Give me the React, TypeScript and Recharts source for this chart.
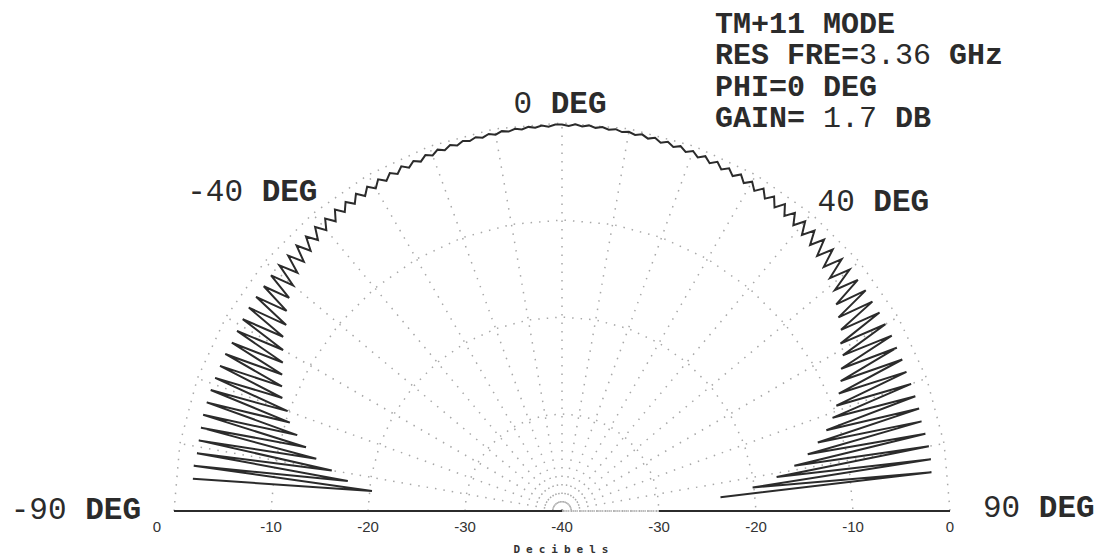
import { RadarChart, Radar, PolarGrid, PolarAngleAxis, PolarRadiusAxis } from 'recharts';

// elevation angle of each sample, degrees (0 = broadside)
const THETA_DEG = [
  -85, -84, -83, -82, -81, -80, -79, -78, -77, -76,
  -75, -74, -73, -72, -71, -70, -69, -68, -67, -66,
  -65, -64, -63, -62, -61, -60, -59, -58, -57, -56,
  -55, -54, -53, -52, -51, -50, -49, -48, -47, -46,
  -45, -44, -43, -42, -41, -40, -39, -38, -37, -36,
  -35, -34, -33, -32, -31, -30, -29, -28, -27, -26,
  -25, -24, -23, -22, -21, -20, -19, -18, -17, -16,
  -15, -14, -13, -12, -11, -10, -9, -8, -7, -6,
  -5, -4, -3, -2, -1, 0, 1, 2, 3, 4,
  5, 6, 7, 8, 9, 10, 11, 12, 13, 14,
  15, 16, 17, 18, 19, 20, 21, 22, 23, 24,
  25, 26, 27, 28, 29, 30, 31, 32, 33, 34,
  35, 36, 37, 38, 39, 40, 41, 42, 43, 44,
  45, 46, 47, 48, 49, 50, 51, 52, 53, 54,
  55, 56, 57, 58, 59, 60, 61, 62, 63, 64,
  65, 66, 67, 68, 69, 70, 71, 72, 73, 74,
  75, 76, 77, 78, 79, 80, 81, 82, 83, 84, 85,
];

// normalised pattern, dB
const GAIN_DB = [
  -1.8, -20.3, -1.75, -17.7, -1.9, -15.9, -1.85, -14.1, -1.8, -12.8,
  -1.7, -11.6, -1.7, -10.5, -1.7, -9.9, -1.7, -8.9, -1.7, -8.4,
  -1.7, -7.9, -1.8, -7.4, -1.7, -6.8, -1.6, -6.1, -1.5, -5.7,
  -1.5, -4.9, -1.5, -4.3, -1.4, -3.8, -1.4, -3.3, -1.4, -3.0,
  -1.3, -2.7, -1.3, -2.4, -1.2, -2.2, -1.2, -2.1, -1.1, -1.9,
  -1.1, -1.8, -1.0, -1.7, -1.0, -1.6, -0.9, -1.45, -0.9, -1.35,
  -0.8, -1.25, -0.8, -1.15, -0.7, -1.0, -0.6, -0.9, -0.55, -0.8,
  -0.5, -0.7, -0.45, -0.65, -0.4, -0.6, -0.35, -0.5, -0.3, -0.45,
  -0.25, -0.4, -0.2, -0.35, -0.15, -0.15, -0.3, -0.1, -0.3, -0.15,
  -0.35, -0.2, -0.4, -0.25, -0.45, -0.3, -0.5, -0.3, -0.6, -0.35,
  -0.7, -0.4, -0.75, -0.45, -0.85, -0.5, -0.95, -0.55, -1.05, -0.6,
  -1.15, -0.7, -1.25, -0.7, -1.35, -0.8, -1.5, -0.8, -1.6, -0.9,
  -1.8, -0.9, -1.9, -1.0, -2.1, -1.0, -2.3, -1.1, -2.5, -1.1,
  -2.8, -1.2, -3.1, -1.2, -3.4, -1.3, -3.8, -1.3, -4.6, -1.3,
  -5.2, -1.4, -5.7, -1.4, -6.5, -1.5, -6.9, -1.5, -7.7, -1.6,
  -8.3, -1.6, -9.0, -1.7, -9.7, -1.7, -10.5, -1.7, -11.5, -1.7,
  -12.7, -1.8, -14.0, -1.7, -15.6, -1.6, -17.6, -1.6, -20.2, -1.7, -23.6,
];

const GRID_ANGLES = [-90, -80, -70, -60, -50, -40, -30, -20, -10, 0, 10, 20, 30, 40, 50, 60, 70, 80, 90];
const LABEL_ANGLES = [-90, -40, 0, 40, 90];
const DB_TICKS_LEFT = [0, -10, -20, -30, -40];
const DB_TICKS_RIGHT = [0, -10, -20, -30];
const CENTER_RINGS = [-39.4, -38.7];

const NOTES = [
  [{ t: 'TM+11 MODE', b: true }],
  [{ t: 'RES FRE=', b: true }, { t: '3.36', b: false }, { t: ' GHz', b: true }],
  [{ t: 'PHI=0 DEG', b: true }],
  [{ t: 'GAIN= ', b: true }, { t: '1.7', b: false }, { t: ' DB', b: true }],
];

const MONO = "'Liberation Mono', 'Courier New', monospace";
const INK = '#2b2b2b';
const W = 1099;
const H = 560;
const CX = 562;
const CY = 511;
const R = 388;

const data = THETA_DEG.map((theta, i) => ({ theta, gain: GAIN_DB[i] }));

const DEG_OFFSET: Record<string, [number, number, 'start' | 'middle' | 'end']> = {
  '-90': [-25, 8, 'end'],
  '-40': [10, -7, 'end'],
  '0': [-2, -2, 'middle'],
  '40': [1, 3, 'start'],
  '90': [25, 6, 'start'],
};

function DegTick(props: any) {
  const { x, y, payload } = props;
  const [dx, dy, anchor] = DEG_OFFSET[String(payload.value)] ?? [0, 0, 'middle'];
  return (
    <text x={x + dx} y={y + dy} textAnchor={anchor} fontFamily={MONO} fontSize={31} fill={INK}>
      <tspan>{`${payload.value}\u00a0`}</tspan>
      <tspan fontWeight="bold">DEG</tspan>
    </text>
  );
}

function DbTick(side: 'left' | 'right') {
  return (props: any) => {
    const { x, y, payload } = props;
    const dx = side === 'left' && payload.value === 0 ? -17 : 0;
    return (
      <text
        x={x + dx}
        y={y + 21}
        textAnchor="middle"
        fontFamily="'Liberation Sans', Arial, sans-serif"
        fontSize={15}
        fill="#333"
      >
        {payload.value}
      </text>
    );
  };
}

// open trace: the pattern is not closed back across the ground plane
function OpenTrace(props: any) {
  const pts = (props.points || []).filter((p: any) => Number.isFinite(p.x) && Number.isFinite(p.y));
  const d = pts.map((p: any, i: number) => `${i === 0 ? 'M' : 'L'}${p.x},${p.y}`).join('');
  return <path d={d} fill="none" stroke={INK} strokeWidth={2} strokeLinejoin="miter" />;
}

const layer = { position: 'absolute' as const, left: 0, top: 0 };

export default function App() {
  return (
    <div style={{ ...layer, width: W, height: H, background: '#fff' }}>
      <div style={layer}>
        <RadarChart
          width={W}
          height={H}
          data={data}
          cx={CX}
          cy={CY}
          innerRadius={0}
          outerRadius={R}
          startAngle={180}
          endAngle={0}
          margin={{ top: 0, right: 0, bottom: 0, left: 0 }}
        >
          <PolarAngleAxis
            angleAxisId="grid"
            dataKey="theta"
            type="number"
            domain={[-90, 90]}
            ticks={GRID_ANGLES}
            tick={false}
            tickLine={false}
            axisLine={false}
          />
          <PolarAngleAxis
            dataKey="theta"
            type="number"
            domain={[-90, 90]}
            ticks={LABEL_ANGLES}
            tick={DegTick}
            tickLine={false}
            axisLine={false}
          />
          <PolarRadiusAxis
            type="number"
            domain={[-40, 0]}
            ticks={DB_TICKS_LEFT}
            angle={180}
            tick={DbTick('left')}
            tickLine={false}
            axisLine={{ stroke: INK, strokeWidth: 2 }}
          />
          <PolarRadiusAxis
            radiusAxisId="rings"
            type="number"
            domain={[-40, 0]}
            ticks={CENTER_RINGS}
            tick={false}
            tickLine={false}
            axisLine={false}
          />
          <PolarGrid
            angleAxisId="grid"
            gridType="polygon"
            stroke="#a8a8a8"
            strokeWidth={1.5}
            strokeDasharray="1.5 7"
          />
          <PolarGrid
            angleAxisId="grid"
            radiusAxisId="rings"
            gridType="polygon"
            radialLines={false}
            stroke={INK}
            strokeWidth={1.5}
          />
          <Radar
            dataKey="gain"
            stroke={INK}
            strokeWidth={2}
            fill="none"
            fillOpacity={0}
            dot={false}
            shape={OpenTrace}
            isAnimationActive={false}
          />
        </RadarChart>
      </div>
      {/* right-hand half of the decibel scale, same geometry */}
      <div style={{ ...layer, pointerEvents: 'none' }}>
        <RadarChart
          width={W}
          height={H}
          data={data}
          cx={CX}
          cy={CY}
          innerRadius={0}
          outerRadius={R}
          startAngle={180}
          endAngle={0}
          margin={{ top: 0, right: 0, bottom: 0, left: 0 }}
        >
          <PolarAngleAxis dataKey="theta" type="number" domain={[-90, 90]} tick={false} tickLine={false} axisLine={false} />
          <PolarRadiusAxis
            type="number"
            domain={[-40, 0]}
            ticks={DB_TICKS_RIGHT}
            angle={0}
            tick={DbTick('right')}
            tickLine={false}
            axisLine={{ stroke: INK, strokeWidth: 2 }}
          />
          <Radar dataKey="gain" stroke="none" fill="none" dot={false} shape={() => <g />} isAnimationActive={false} />
        </RadarChart>
      </div>
      <svg width={W} height={H} style={{ ...layer, pointerEvents: 'none' }}>
        {NOTES.map((line, i) => (
          <text key={i} x={715} y={33 + i * 31.3} fontFamily={MONO} fontSize={30} fill={INK}>
            {line.map((part, j) => (
              <tspan key={j} fontWeight={part.b ? 'bold' : 'normal'}>
                {part.t.replace(/ /g, '\u00a0')}
              </tspan>
            ))}
          </text>
        ))}
        <text
          x={564}
          y={553}
          textAnchor="middle"
          fontFamily="'DejaVu Sans Mono', monospace"
          fontSize={11}
          fontWeight="bold"
          letterSpacing={6}
          fill="#333"
        >
          Decibels
        </text>
      </svg>
    </div>
  );
}
